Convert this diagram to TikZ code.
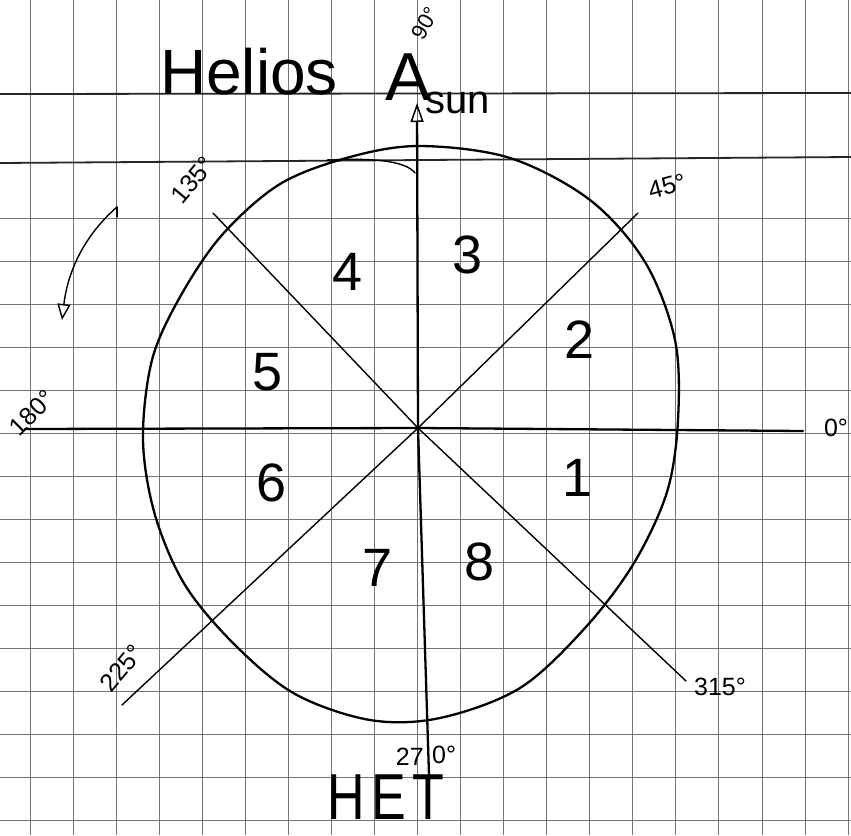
\documentclass[tikz,border=0pt]{standalone}
\usepackage{fontspec}
\setmainfont{Liberation Sans}
\newfontfamily\spacedfont{Liberation Sans}[LetterSpace=12]
\usetikzlibrary{arrows.meta}
\begin{document}
\begin{tikzpicture}[x=1pt,y=-1pt,
  grid/.style={black!55,line width=0.7pt},
  rule/.style={black!85,line width=1.8pt},
  ink/.style={black,line width=2.3pt,line cap=round,line join=round},
  pen/.style={black,line width=1.4pt,line cap=round,line join=round},
  num/.style={font=\fontsize{54}{56}\selectfont,inner sep=0pt},
  deg/.style={font=\fontsize{25}{27}\selectfont,inner sep=0pt},
]
\useasboundingbox[fill=white] (0,0) rectangle (851,835);
% graph paper
\foreach \i in {0,...,19} \draw[grid] ({30+43.05*\i},0) -- ({30+43.05*\i},835);
\foreach \i in {0,...,14} \draw[grid] (0,{218+43*\i}) -- (851,{218+43*\i});
\draw[rule] (0,94) -- (851,93);
\draw[rule] (0,163) -- (851,157);

% key points
\coordinate (O) at (418,428);
\coordinate (top) at (417,103);
\coordinate (bot) at (429,775);
\coordinate (left) at (25,429);
\coordinate (right) at (803,431);
\coordinate (p45) at (638,213);
\coordinate (p225) at (122,705);
\coordinate (p135) at (213,213);
\coordinate (p315) at (686,681);

% circle
\draw[ink] plot[smooth cycle, tension=0.55] coordinates {
 (420,146) (510,158) (590,200) (645,262) (675,340) (678,420) (667,492)
 (634,563) (585,628) (520,688) (440,718) (370,720) (295,694) (235,645)
 (185,585) (155,515) (143,440) (152,360) (180,297) (222,235) (280,184) (350,157)};
\draw[pen] (327,160) .. controls (370,158) and (405,160) .. (415,173);

% axes and diagonals
\draw[ink] (left) -- (O) -- (right);
\draw[ink, -{Triangle[open,length=19pt,width=13pt,line width=1.5pt]}] (bot) -- (O) -- (top);
\draw[pen] (p225) -- (O) -- (p45);
\draw[pen] (p135) -- (O) -- (p315);

% rotation arrow
\coordinate (ra) at (117,207);
\coordinate (rb) at (62,320);
\draw[pen] (ra) -- (117,217);
\draw[pen, -{Triangle[open,length=16pt,width=13pt,line width=1.4pt]}] (ra) .. controls (85,235) and (68,270) .. (rb);

% titles
\node[font=\fontsize{64}{66}\selectfont, anchor=base west, inner sep=0pt] (title) at (160,94) {Helios};
\node[font=\fontsize{68}{70}\selectfont, anchor=base, inner sep=0pt] (A) at (408,100) {A};
\node[font=\fontsize{40}{42}\selectfont, anchor=base west, inner sep=0pt] (sun) at (425,113) {sun};
\node[font=\spacedfont\fontsize{52}{54}\selectfont, inner sep=0pt] (het) at (386,797) {\scalebox{1}[1.25]{HET}};

% degree labels
\node[deg, font=\fontsize{22}{24}\selectfont, rotate=60] (d90) at (425,23) {90°};
\node[deg, rotate=50] (d135) at (193,180) {135°};
\node[deg, rotate=15] (d45) at (667,186) {45°};
\node[deg, rotate=45] (d180) at (32,413) {180°};
\node[deg] (d0) at (836,428) {0°};
\node[deg, rotate=50] (d225) at (122,668) {225°};
\node[deg] (d315) at (720,687) {315°};
\node[deg, anchor=east] (d27) at (424,757) {27};
\node[deg, anchor=west] (d270) at (432,755) {0°};

% sector numbers
\node[num] (n1) at (578,478) {1};
\node[num] (n2) at (580,340) {2};
\node[num] (n3) at (468,255) {3};
\node[num] (n4) at (348,272) {4};
\node[num] (n5) at (268,372) {5};
\node[num] (n6) at (272,483) {6};
\node[num] (n7) at (378,568) {7};
\node[num] (n8) at (480,562) {8};
\end{tikzpicture}
\end{document}
